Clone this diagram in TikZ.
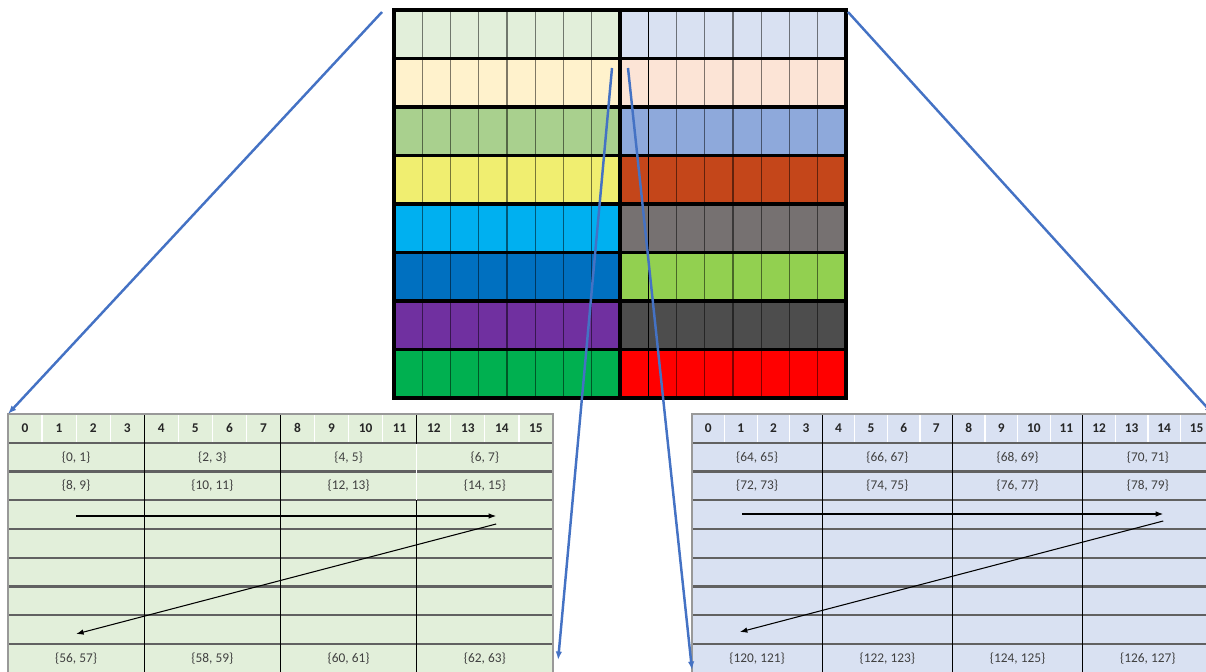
\documentclass[tikz,border=0pt]{standalone}
\usepackage{fontspec}
\setmainfont{Carlito}
\usetikzlibrary{arrows.meta}

% row colours of the top block (left half / right half)
\definecolor{lrow1}{HTML}{E2EFDA}
\definecolor{lrow2}{HTML}{FFF2CC}
\definecolor{lrow3}{HTML}{A9D08E}
\definecolor{lrow4}{HTML}{F0EE70}
\definecolor{lrow5}{HTML}{00B0F0}
\definecolor{lrow6}{HTML}{0070C0}
\definecolor{lrow7}{HTML}{7030A0}
\definecolor{lrow8}{HTML}{00B050}
\definecolor{rrow1}{HTML}{D9E1F2}
\definecolor{rrow2}{HTML}{FCE4D6}
\definecolor{rrow3}{HTML}{8EA9DB}
\definecolor{rrow4}{HTML}{C4461A}
\definecolor{rrow5}{HTML}{767171}
\definecolor{rrow6}{HTML}{92D050}
\definecolor{rrow7}{HTML}{4D4D4D}
\definecolor{rrow8}{HTML}{FF0000}
\definecolor{zoomblue}{HTML}{4472C4}

\begin{document}
\begin{tikzpicture}[
  x=0.02cm, y=-0.02cm,
  % Top block lines
  thinline/.style={draw=black, opacity=0.5, line width=0.7pt},
  thickline/.style={draw=black, line width=1.8pt},
  % Table styles
  hdr/.style={font=\fontsize{7.6}{8.5}\selectfont\bfseries, text=black!85},
  cell/.style={font=\fontsize{7.6}{8.5}\selectfont, text=black!75},
  rowline/.style={draw=black!62, line width=1.2pt},
  grpline/.style={draw=black, line width=0.6pt},
  hdrsep/.style={draw=white, line width=0.7pt},
  % Arrow styles
  zoomarrow/.style={
    draw=zoomblue,
    line width=1.4pt,
    -{Latex[length=1.7mm, width=1.3mm]}
  },
  scan/.style={
    draw=black,
    line width=0.6pt,
    -{Latex[length=1.5mm, width=1.1mm]}
  }
]

\clip (0,0) rectangle (1206,672);

% === TOP BLOCK ===
\foreach \r in {1,...,8} {
  \fill[lrow\r] (394,{10+48.5*(\r-1)}) rectangle (620,{10+48.5*\r});
  \fill[rrow\r] (620,{10+48.5*(\r-1)}) rectangle (846,{10+48.5*\r});
}
\foreach \i in {1,...,7} {
  \draw[thinline] ({394+28.25*\i},10) -- ++(0,388);
}
\foreach \i in {2,...,7} {
  \draw[thinline] ({620+28.25*\i},10) -- ++(0,388);
}
\draw[draw=black, line width=0.6pt] (648.25,10) -- ++(0,388);
\foreach \j in {1,...,7} {
  \draw[thickline] (394,{10+48.5*\j}) -- (846,{10+48.5*\j});
}
\draw[thickline] (620,10) -- (620,398);
\draw[draw=black, line width=2.2pt] (394,10) rectangle (846,398);

\coordinate (blockNW) at (382,12);
\coordinate (blockNE) at (848,12);
\coordinate (blockL) at (612,68);
\coordinate (blockR) at (628,68);

% === LEFT TABLE ===
\begin{scope}[shift={(8,414)}, x=34.0625*0.02cm]
  \fill[lrow1] (0,0) rectangle (16,262);
  \foreach \i in {1,2,3,5,6,7,9,10,11,13,14,15}
    \draw[hdrsep] (\i,0) -- (\i,28.75);
  \foreach \j in {1,...,8}
    \draw[rowline] (0,{28.75*\j}) -- (16,{28.75*\j});
  \foreach \i in {4,8,12}
    \draw[grpline] (\i,0) -- (\i,262);
  \draw[hdrsep] (12,29.5) -- (12,86);
  \draw[draw=black!40, line width=0.8pt] (0,262) -- (0,0) -- (16,0) -- (16,262);

  \foreach \i in {0,...,15}
    \node[hdr] (lh\i) at (\i+0.5,14.4) {\i};
  \foreach \row/\y/\base in {1/43.1/0, 2/71.9/8, 8/244.4/56}
    \foreach \k in {0,...,3} {
      \pgfmathtruncatemacro\lo{\base+2*\k}
      \pgfmathtruncatemacro\hi{\lo+1}
      \node[cell] (lc\row-\k) at (4*\k+2,\y) {\{\lo, \hi\}};
    }

  \coordinate (ltabNW) at (0,0);
  \coordinate (ltabSE) at (16.15,246);
  \coordinate (lscanA) at (2,102);
  \coordinate (lscanB) at (14.33,102);
  \coordinate (lscanC) at (14.33,110);
  \coordinate (lscanD) at (2,220);
  \draw[scan] (lscanA) -- (lscanB);
  \draw[scan] (lscanC) -- (lscanD);
\end{scope}

% === RIGHT TABLE ===
\begin{scope}[shift={(692,414)}, x=32.5625*0.02cm]
  \fill[rrow1] (0,0) rectangle (16,262);
  \foreach \i in {1,2,3,5,6,7,9,10,11,13,14,15}
    \draw[hdrsep] (\i,0) -- (\i,28.75);
  \foreach \j in {1,...,8}
    \draw[rowline] (0,{28.75*\j}) -- (16,{28.75*\j});
  \foreach \i in {4,8,12}
    \draw[grpline] (\i,0) -- (\i,262);
  \draw[draw=black!40, line width=0.8pt] (0,262) -- (0,0) -- (16,0) -- (16,262);

  \foreach \i in {0,...,15}
    \node[hdr] (rh\i) at (\i+0.5,14.4) {\i};
  \foreach \row/\y/\base in {1/43.1/64, 2/71.9/72, 8/244.4/120}
    \foreach \k in {0,...,3} {
      \pgfmathtruncatemacro\lo{\base+2*\k}
      \pgfmathtruncatemacro\hi{\lo+1}
      \node[cell] (rc\row-\k) at (4*\k+2,\y) {\{\lo, \hi\}};
    }

  \coordinate (rtabNE) at (16,0);
  \coordinate (rtabSW) at (0,256);
  \coordinate (rscanA) at (1.54,100);
  \coordinate (rscanB) at (14.47,100);
  \coordinate (rscanC) at (14.47,107);
  \coordinate (rscanD) at (1.47,218);
  \draw[scan] (rscanA) -- (rscanB);
  \draw[scan] (rscanC) -- (rscanD);
\end{scope}

% === ZOOM CONNECTORS ===
\draw[zoomarrow] (blockNW) -- (ltabNW);
\draw[zoomarrow] (blockNE) -- (rtabNE);
\draw[zoomarrow] (blockL) -- (ltabSE);
\draw[zoomarrow] (blockR) -- (rtabSW);

\end{tikzpicture}
\end{document}
